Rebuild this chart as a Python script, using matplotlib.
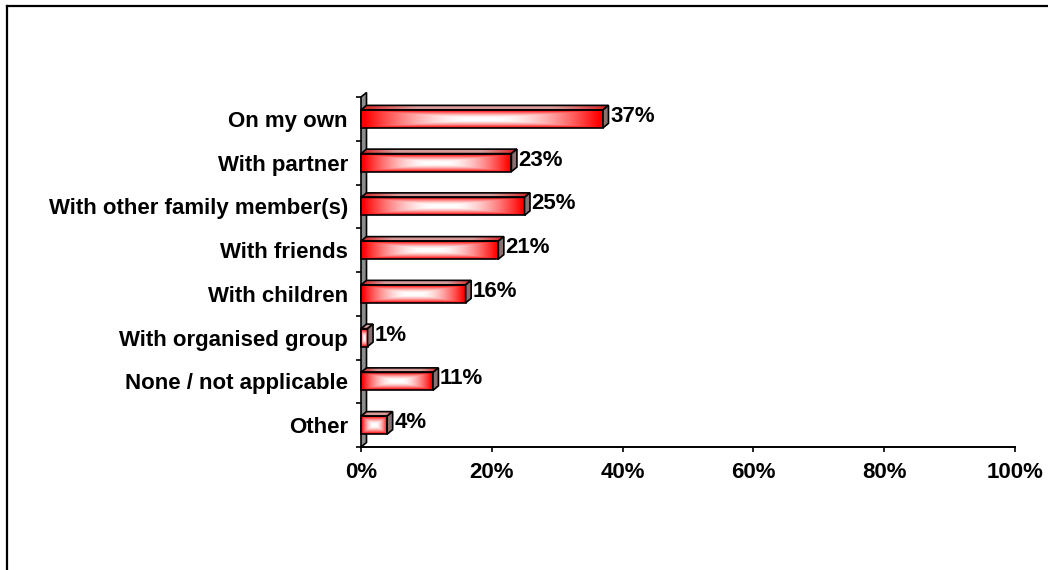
import numpy as np
import matplotlib
matplotlib.use("Agg")
import matplotlib.pyplot as plt
from matplotlib.patches import Polygon
from matplotlib.lines import Line2D

categories = [
    "On my own",
    "With partner",
    "With other family member(s)",
    "With friends",
    "With children",
    "With organised group",
    "None / not applicable",
    "Other",
]
values = [37, 23, 25, 21, 16, 1, 11, 4]
x_ticks = [0, 20, 40, 60, 80, 100]
x_tick_labels = ["0%", "20%", "40%", "60%", "80%", "100%"]

plt.rcParams["font.family"] = ["Liberation Sans", "DejaVu Sans"]
plt.rcParams["font.weight"] = "bold"
FS = 16

W, H = 1048, 570
fig = plt.figure(figsize=(W / 100, H / 100), dpi=100)
fig.patch.set_facecolor("white")

# plot area in pixels
ax_left, ax_right, ax_top, ax_bottom = 361, 1015, 97, 447
ax = fig.add_axes([ax_left / W, (H - ax_bottom) / H,
                   (ax_right - ax_left) / W, (ax_bottom - ax_top) / H])
n = len(categories)
ax.set_xlim(0, 100)
ax.set_ylim(n - 0.5, -0.5)

# pixel -> data conversions for the 3D depth offset
px_x = 100 / (ax_right - ax_left)
px_y = n / (ax_bottom - ax_top)
dx = 5.5 * px_x
dy = 4.5 * px_y
bar_h = 18 * px_y


def shade(t):
    return np.clip((t - 0.12) / 0.85, 0, 1) ** 1.6


def front_gradient(rows=40, cols=240):
    u = np.linspace(-1, 1, cols)[None, :]
    v = np.linspace(-1, 1, rows)[:, None]
    t = np.maximum(np.abs(u), np.abs(v))
    s = shade(t)
    img = np.ones((rows, cols, 3))
    img[..., 1] = 1 - s
    img[..., 2] = 1 - s
    return img


def top_gradient(rows=10, cols=240):
    u = np.linspace(-1, 1, cols)[None, :] * np.ones((rows, 1))
    s = shade(np.maximum(np.abs(u), 0.55))
    img = np.ones((rows, cols, 3))
    img[..., 0] = 0.85
    img[..., 1] = 0.85 * (1 - s) * 0.8 + 0.15
    img[..., 2] = 0.85 * (1 - s) * 0.8 + 0.15
    return img


edge_lw = 1.2

# side wall of the 3D frame
wall = Polygon([(0, n - 0.5), (0, -0.5), (dx, -0.5 - dy), (dx, n - 0.5 - dy)],
               closed=True, facecolor="#8c8c8c", edgecolor="black",
               linewidth=edge_lw, clip_on=False, zorder=2)
ax.add_patch(wall)

for i, v in enumerate(values):
    top = i - bar_h / 2
    bot = i + bar_h / 2
    # front face
    ax.imshow(front_gradient(), extent=(0, v, bot, top), aspect="auto",
              interpolation="bilinear", zorder=3, clip_on=False)
    front = Polygon([(0, top), (v, top), (v, bot), (0, bot)], closed=True,
                    fill=False, edgecolor="black", linewidth=edge_lw,
                    zorder=5, clip_on=False)
    ax.add_patch(front)
    # top face
    top_poly = Polygon([(0, top), (v, top), (v + dx, top - dy), (dx, top - dy)],
                       closed=True, facecolor="none", edgecolor="black",
                       linewidth=edge_lw, zorder=5, clip_on=False)
    ax.add_patch(top_poly)
    im = ax.imshow(top_gradient(), extent=(0, v + dx, top, top - dy),
                   aspect="auto", interpolation="bilinear", zorder=3)
    im.set_clip_path(top_poly)
    # side face
    side = Polygon([(v, top), (v, bot), (v + dx, bot - dy), (v + dx, top - dy)],
                   closed=True, facecolor="#8a7070", edgecolor="black",
                   linewidth=edge_lw, zorder=5, clip_on=False)
    ax.add_patch(side)
    # value label
    ax.text(v + dx + 1.5 * px_x, i - 2.5 * px_y, f"{v}%", ha="left", va="center",
            fontsize=FS, fontweight="bold", color="black", zorder=6)

ax.set_xticks(x_ticks)
ax.set_xticklabels(x_tick_labels, fontsize=FS, fontweight="bold")
ax.set_yticks(range(n))
ax.set_yticklabels(categories, fontsize=FS, fontweight="bold")
ax.set_yticks(np.arange(-0.5, n, 1.0), minor=True)
ax.tick_params(axis="y", which="major", length=0, pad=9.5)
ax.tick_params(axis="y", which="minor", length=3.6, width=1.2, direction="out")
ax.tick_params(axis="x", which="major", length=3.6, width=1.2, direction="out", pad=7)
ax.tick_params(axis="x", which="minor", length=0)

for name in ("top", "right", "left"):
    ax.spines[name].set_visible(False)
ax.spines["bottom"].set_linewidth(1.4)
ax.set_facecolor("none")

# outer frame lines (top and left)
fig.add_artist(Line2D([7 / W, 1.0], [1 - 6 / H, 1 - 6 / H], transform=fig.transFigure,
                      color="black", linewidth=1.6))
fig.add_artist(Line2D([7 / W, 7 / W], [0.0, 1 - 6 / H], transform=fig.transFigure,
                      color="black", linewidth=1.6))

fig.savefig("out.png", dpi=100, facecolor="white")
